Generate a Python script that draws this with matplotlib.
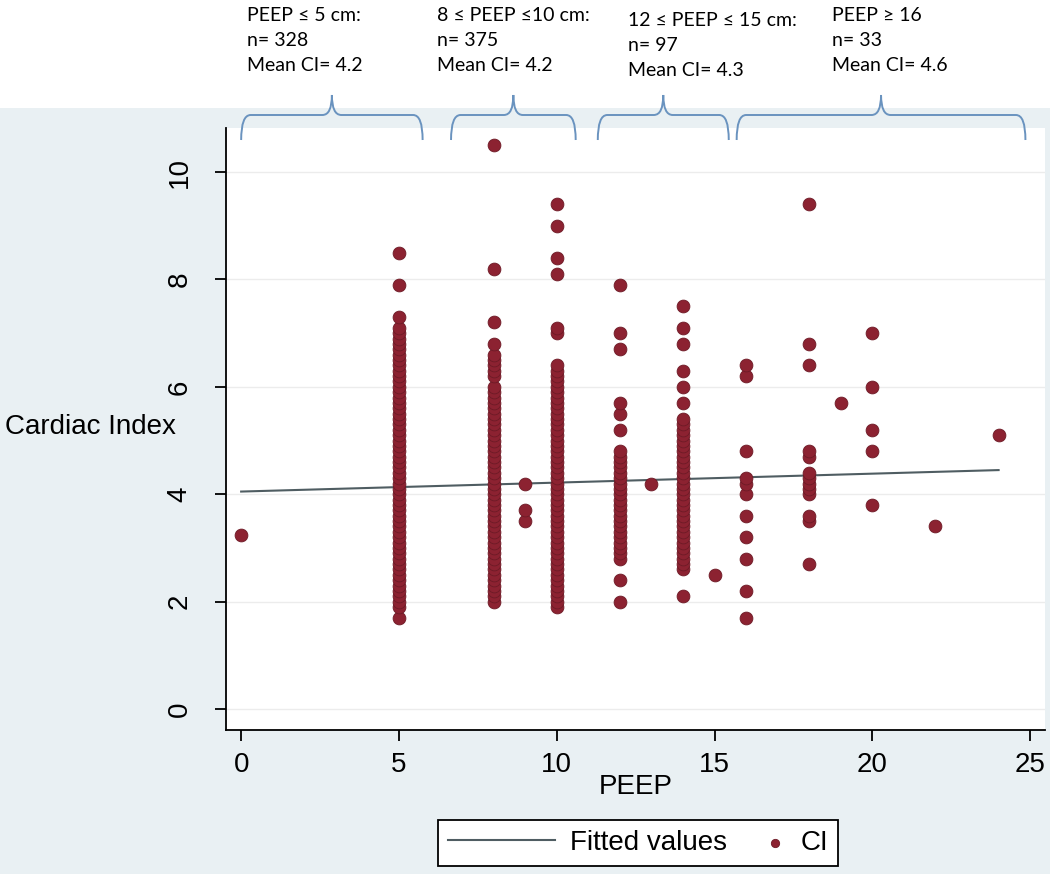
import matplotlib.pyplot as plt
from matplotlib.path import Path
from matplotlib.patches import PathPatch
from matplotlib.transforms import blended_transform_factory
from matplotlib.legend_handler import HandlerPathCollection

# Cardiac index (CI) values, one list per PEEP level
ci_peep0 = [3.25]
ci_peep5 = [1.7, 1.9, 2.0, 2.1, 2.2, 2.3, 2.4, 2.5, 2.6, 2.7, 2.8, 2.9, 3.0, 3.1,
            3.2, 3.3, 3.4, 3.5, 3.6, 3.7, 3.8, 3.9, 4.0, 4.1, 4.2, 4.3, 4.4, 4.5,
            4.6, 4.7, 4.8, 4.9, 5.0, 5.1, 5.2, 5.3, 5.4, 5.5, 5.6, 5.7, 5.8, 5.9,
            6.0, 6.1, 6.2, 6.3, 6.4, 6.5, 6.6, 6.7, 6.8, 6.9, 7.0, 7.1, 7.3, 7.9, 8.5]
ci_peep8 = [2.0, 2.1, 2.2, 2.3, 2.4, 2.5, 2.6, 2.7, 2.8, 2.9, 3.0, 3.1, 3.2, 3.3,
            3.4, 3.5, 3.6, 3.7, 3.8, 3.9, 4.0, 4.1, 4.2, 4.3, 4.4, 4.5, 4.6, 4.7,
            4.8, 4.9, 5.0, 5.1, 5.2, 5.3, 5.4, 5.5, 5.6, 5.7, 5.8, 5.9, 6.0, 6.2,
            6.3, 6.4, 6.5, 6.6, 6.8, 7.2, 8.2, 10.5]
ci_peep9 = [3.5, 3.7, 4.2]
ci_peep10 = [1.9, 2.0, 2.1, 2.2, 2.3, 2.4, 2.5, 2.6, 2.7, 2.8, 2.9, 3.0, 3.1, 3.2,
             3.3, 3.4, 3.5, 3.6, 3.7, 3.8, 3.9, 4.0, 4.1, 4.2, 4.3, 4.4, 4.5, 4.6,
             4.7, 4.8, 4.9, 5.0, 5.1, 5.2, 5.3, 5.4, 5.5, 5.6, 5.7, 5.8, 5.9, 6.0,
             6.1, 6.2, 6.3, 6.4, 7.0, 7.1, 8.1, 8.4, 9.0, 9.4]
ci_peep12 = [2.0, 2.4, 2.8, 2.9, 3.0, 3.1, 3.2, 3.3, 3.4, 3.5, 3.6, 3.7, 3.8, 3.9,
             4.0, 4.1, 4.2, 4.3, 4.4, 4.5, 4.6, 4.7, 4.8, 5.2, 5.5, 5.7, 6.7, 7.0, 7.9]
ci_peep13 = [4.2]
ci_peep14 = [2.1, 2.6, 2.7, 2.8, 2.9, 3.0, 3.1, 3.2, 3.3, 3.4, 3.5, 3.6, 3.7, 3.8,
             3.9, 4.0, 4.1, 4.2, 4.3, 4.4, 4.5, 4.6, 4.7, 4.8, 4.9, 5.0, 5.1, 5.2,
             5.3, 5.4, 5.7, 6.0, 6.3, 6.8, 7.1, 7.5]
ci_peep15 = [2.5]
ci_peep16 = [1.7, 2.2, 2.8, 3.2, 3.6, 4.0, 4.2, 4.3, 4.8, 6.2, 6.4]
ci_peep18 = [2.7, 3.5, 3.6, 4.0, 4.1, 4.2, 4.3, 4.4, 4.7, 4.8, 6.4, 6.8, 9.4]
ci_peep19 = [5.7]
ci_peep20 = [3.8, 4.8, 5.2, 6.0, 7.0]
ci_peep22 = [3.4]
ci_peep24 = [5.1]

peep_levels = [0, 5, 8, 9, 10, 12, 13, 14, 15, 16, 18, 19, 20, 22, 24]
ci_lists = [ci_peep0, ci_peep5, ci_peep8, ci_peep9, ci_peep10, ci_peep12, ci_peep13,
            ci_peep14, ci_peep15, ci_peep16, ci_peep18, ci_peep19, ci_peep20,
            ci_peep22, ci_peep24]

# fitted line (endpoints)
fit_x = [0, 24]
fit_y = [4.05, 4.45]

# group annotations above the plot
group_titles = ["PEEP \u2264 5 cm:", "8 \u2264 PEEP \u226410 cm:",
                "12 \u2264 PEEP \u2264 15 cm:", "PEEP \u2265 16"]
group_n = [328, 375, 97, 33]
group_mean = [4.2, 4.2, 4.3, 4.6]
brace_lo = [0.0, 6.65, 11.3, 15.7]
brace_hi = [5.75, 10.6, 15.45, 24.85]

x = []
y = []
for p, vals in zip(peep_levels, ci_lists):
    for v in vals:
        x.append(p)
        y.append(v)

plt.rcParams['font.family'] = ['Liberation Sans', 'DejaVu Sans']

W, H = 1050, 874
bg = '#e9f0f3'
fig = plt.figure(figsize=(W / 100, H / 100), dpi=100, facecolor=bg)

# white band at the top
fig.patches.append(plt.Rectangle((0, 1 - 108 / H), 1, 108 / H, transform=fig.transFigure,
                                 facecolor='white', edgecolor='none', zorder=0))

ax = fig.add_axes([226 / W, 1 - 730 / H, (1045 - 226) / W, (730 - 128) / H])
ax.set_facecolor('white')

ax.plot(fit_x, fit_y, color='#4f5d62', lw=1.5, label='Fitted values', zorder=3)
sc = ax.scatter(x, y, s=85, color='#8c2231', edgecolors='#6d1a26', linewidths=0.6,
                label='CI', zorder=4)

ax.set_xlim(-0.48, 25.47)
ax.set_ylim(-0.39, 10.82)
ax.set_xticks([0, 5, 10, 15, 20, 25])
ax.set_yticks([0, 2, 4, 6, 8, 10])
ax.tick_params(axis='both', labelsize=20, length=8, width=1.3, color='black')
ax.tick_params(axis='x', pad=8)
ax.tick_params(axis='y', pad=16)
for lab in ax.get_yticklabels():
    lab.set_rotation(90)
    lab.set_va('center')
ax.grid(axis='y', color='#ececec', lw=1)
ax.set_axisbelow(True)
for s in ['top', 'right']:
    ax.spines[s].set_visible(False)
for s in ['left', 'bottom']:
    ax.spines[s].set_linewidth(1.3)
    ax.spines[s].set_color('black')

ax.set_xlabel('PEEP', fontsize=20, labelpad=-3)
ax.set_ylabel('Cardiac Index', fontsize=20, rotation=0, ha='left', va='center')
ax.yaxis.set_label_coords(-0.27, 0.503)

leg = fig.legend(loc='center', bbox_to_anchor=(638 / W, 1 - 843 / H), ncol=2,
                 fontsize=20, frameon=True, fancybox=False, edgecolor='black',
                 framealpha=1, handlelength=3.85, handletextpad=0.54,
                 columnspacing=-1.76, markerscale=0.65, borderpad=0.35,
                 handler_map={sc: HandlerPathCollection(xpad=3.1)})
leg.get_frame().set_linewidth(1.3)

# braces and group texts
tr = blended_transform_factory(ax.transData, fig.transFigure)
y_end = 1 - 140 / H
y_mid = 1 - 115 / H
y_tip = 1 - 95 / H
rx = 0.3
for i in range(len(brace_lo)):
    x0, x1 = brace_lo[i], brace_hi[i]
    xc = (x0 + x1) / 2
    verts = [(x0, y_end), (x0, y_mid), (x0 + rx, y_mid),
             (xc - rx, y_mid), (xc, y_mid), (xc, y_tip),
             (xc, y_mid), (xc + rx, y_mid),
             (x1 - rx, y_mid), (x1, y_mid), (x1, y_end)]
    codes = [Path.MOVETO, Path.CURVE3, Path.CURVE3,
             Path.LINETO, Path.CURVE3, Path.CURVE3,
             Path.CURVE3, Path.CURVE3,
             Path.LINETO, Path.CURVE3, Path.CURVE3]
    fig.patches.append(PathPatch(Path(verts, codes), transform=tr, facecolor='none',
                                 edgecolor='#6a93bf', lw=1.4, zorder=5))

text_x = [0.19, 6.21, 12.26, 18.73]
text_base = [21, 21, 26, 21]
for i in range(len(group_titles)):
    lines = [group_titles[i], "n= %d" % group_n[i], "Mean CI= %.1f" % group_mean[i]]
    for k, line in enumerate(lines):
        fig.text(text_x[i], 1 - (text_base[i] + 25 * k) / H, line, transform=tr,
                 ha='left', va='baseline', fontsize=14,
                 family=['Lato', 'Liberation Sans', 'DejaVu Sans'])

fig.savefig('out.png', dpi=100, facecolor=bg)
